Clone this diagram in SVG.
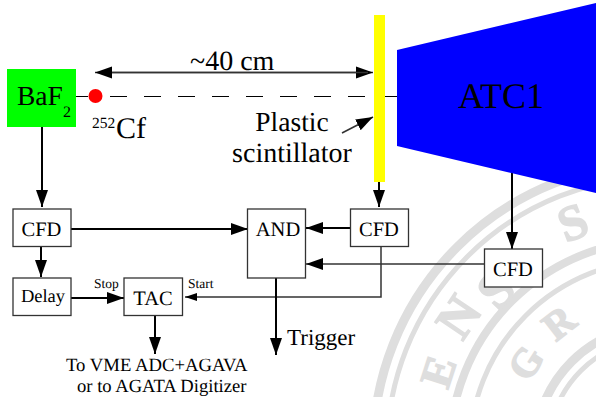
<svg xmlns="http://www.w3.org/2000/svg" width="596" height="397" viewBox="0 0 596 397">
<style>
text{font-family:"Liberation Serif","Times New Roman",serif;fill:#000;text-rendering:geometricPrecision}
.box{fill:#fff;stroke:#333;stroke-width:1.3}
.b{font-size:20.500px;text-anchor:middle}
.c{fill:none;stroke:#000;stroke-width:2}
.t{fill:none;stroke:#333;stroke-width:1.500}
.seal{fill:none;stroke:#dedede}
.sl{fill:#dedede;stroke:#dedede;stroke-width:1.500;font-weight:bold;text-anchor:middle}
</style>
<defs>
<marker id="a" markerUnits="userSpaceOnUse" markerWidth="18" markerHeight="14" refX="17" refY="6.500" orient="auto"><path d="M0 .5L17 6.500L0 12.500z" fill="#000"/></marker>
<marker id="as" markerUnits="userSpaceOnUse" markerWidth="14" markerHeight="10" refX="12" refY="4.500" orient="auto"><path d="M0 .5L12 4.500L0 8.500z" fill="#000"/></marker>
</defs>
<g id="seal">
<circle class="seal" cx="660" cy="450" r="287" stroke-width="9"/>
<circle class="seal" cx="660" cy="450" r="273" stroke-width="5"/>
<circle class="seal" cx="660" cy="450" r="210" stroke-width="8"/>
<circle class="seal" cx="660" cy="450" r="190" stroke-width="5"/>
<circle class="seal" cx="660" cy="450" r="125" stroke-width="9"/>
<circle class="seal" cx="660" cy="450" r="112" stroke-width="5"/>
<text class="sl" font-size="44" transform="translate(439 372) rotate(-72) translate(0 14)">E</text>
<text class="sl" font-size="52" transform="translate(459 317) rotate(-56) translate(0 17)">N</text>
<text class="sl" font-size="52" transform="translate(496 290) rotate(-46) translate(0 17)">S</text>
<text class="sl" font-size="50" transform="translate(573 223) rotate(-21) translate(0 16)">S</text>
<text class="sl" font-size="40" transform="translate(526 363) rotate(-57) translate(0 13)">G</text>
<text class="sl" font-size="40" transform="translate(559 323) rotate(-38) translate(0 13)">R</text>
</g>
<g id="connectors">
<path d="M110 96.500H375" fill="none" stroke="#000" stroke-width="1" stroke-dasharray="17 17"/>
<path d="M76 96.500H88M385 96.500H397" fill="none" stroke="#000" stroke-width="1"/>
<path class="t" d="M100 72.500H373" marker-end="url(#a)"/>
<path class="t" d="M368 72.500H95" marker-end="url(#a)"/>
<path class="t" d="M342 133L373 117" marker-end="url(#a)"/>
<path class="c" d="M42 127V207" marker-end="url(#a)"/>
<path class="c" d="M379 182V207" marker-end="url(#a)"/>
<path class="c" d="M512 172V249" marker-end="url(#a)"/>
<path class="c" d="M71 229H248" marker-end="url(#a)"/>
<path class="c" d="M350 228H306" marker-end="url(#a)"/>
<path class="t" d="M484 264H306" marker-end="url(#a)"/>
<path class="t" d="M381 246V297H185" marker-end="url(#as)"/>
<path class="c" d="M41 247V277" marker-end="url(#a)"/>
<path class="c" d="M71 298H124" marker-end="url(#a)"/>
<path class="c" d="M155 315V354" marker-end="url(#a)"/>
<path class="c" d="M276 278V355" marker-end="url(#a)"/>
</g>
<g id="scintillator"><rect x="374" y="15" width="11" height="167" fill="#ff0"/></g>
<g id="atc1"><path d="M397 50L596 3V193L397 146z" fill="#00f"/><text x="501" y="108" font-size="36" text-anchor="middle">ATC1</text></g>
<g id="baf2"><rect x="7" y="69" width="69" height="58" fill="#0f0"/><text x="17" y="105" font-size="27.500">BaF</text><text x="63" y="117" font-size="16">2</text></g>
<g id="source"><circle cx="95.500" cy="96" r="7" fill="#f00"/></g>
<g id="cfd1"><rect class="box" x="13" y="209" width="58" height="37.500"/><text class="b" x="41.500" y="236">CFD</text></g>
<g id="delay"><rect class="box" x="13" y="278" width="58" height="37.500"/><text class="b" style="font-size:18.500px" x="43" y="302">Delay</text></g>
<g id="tac"><rect class="box" x="124" y="278" width="58.500" height="37.500"/><text class="b" x="153" y="305">TAC</text></g>
<g id="and"><rect class="box" x="247.500" y="209" width="58" height="69"/><text class="b" x="278" y="236">AND</text></g>
<g id="cfd2"><rect class="box" x="350.500" y="209" width="58" height="37.500"/><text class="b" x="379" y="236">CFD</text></g>
<g id="cfd3"><rect class="box" x="484.500" y="249" width="58" height="38"/><text class="b" x="513" y="276">CFD</text></g>
<g id="labels">
<text x="190" y="70" font-size="28">~40 cm</text>
<text x="92" y="128" font-size="15.500">252</text><text x="116" y="138" font-size="30">Cf</text>
<text x="292" y="131" text-anchor="middle" font-size="27.500">Plastic</text>
<text x="292" y="162" text-anchor="middle" font-size="28">scintillator</text>
<text x="94" y="288" font-size="13.500">Stop</text>
<text x="188" y="288" font-size="13.500">Start</text>
<text x="287" y="345" font-size="23">Trigger</text>
<text x="66" y="371" font-size="18.700">To VME ADC+AGAVA</text>
<text x="77" y="391.500" font-size="18.600">or to AGATA Digitizer</text>
</g>
</svg>
